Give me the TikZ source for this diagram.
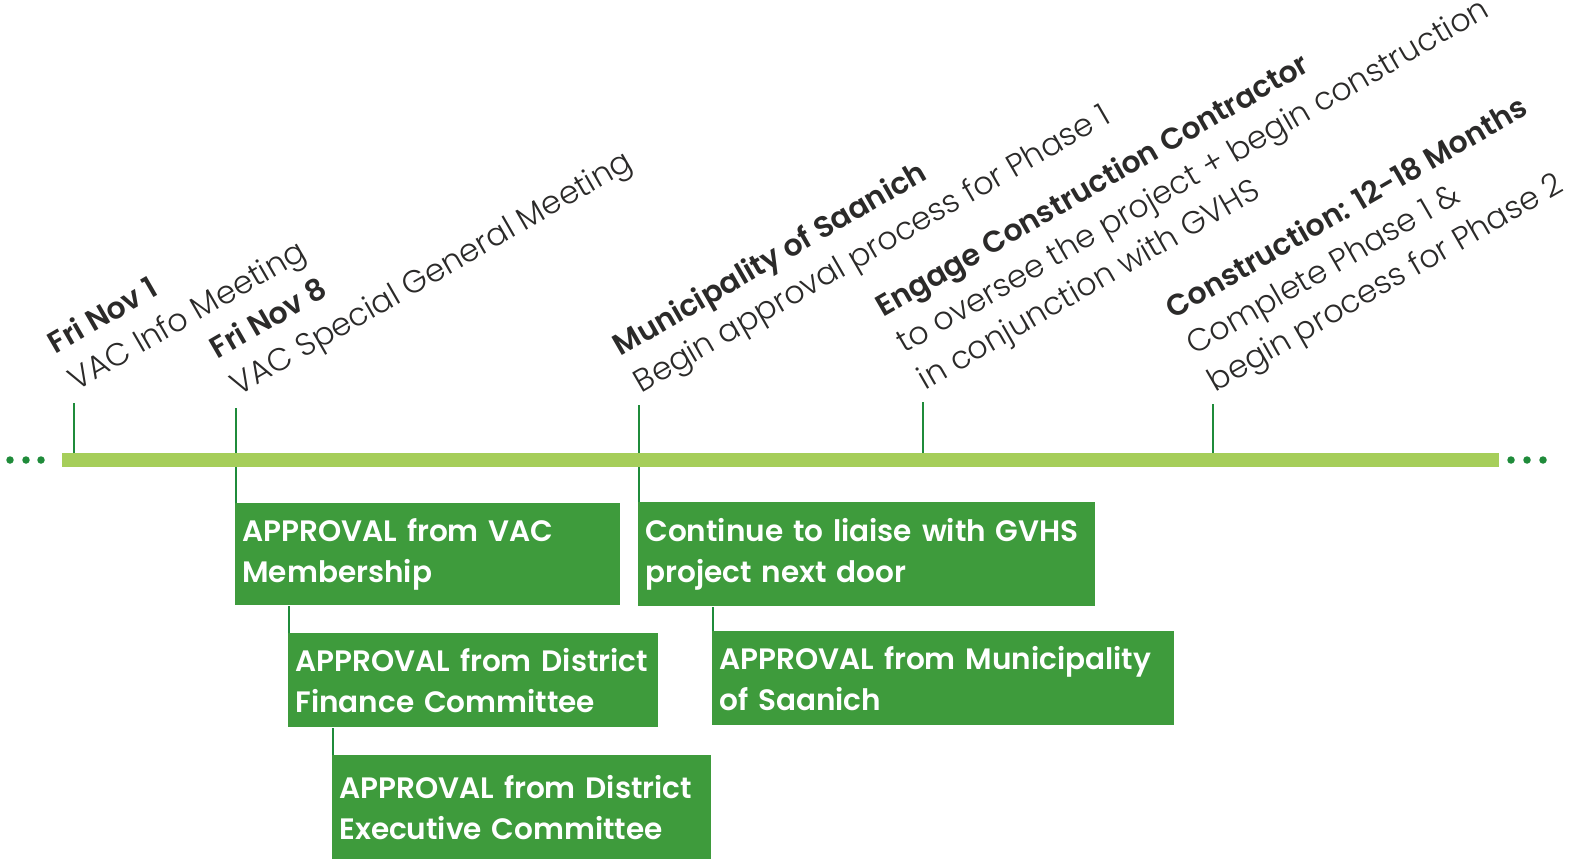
\documentclass[tikz,border=0pt]{standalone}
\usepackage{fontspec}
\setmainfont{Poppins}
\newfontfamily\thinfont{Poppins Light}
\newfontfamily\semifont{Poppins SemiBold}
\usetikzlibrary{calc}
\definecolor{barlime}{HTML}{A6CE5A}
\definecolor{boxgreen}{HTML}{3E9B3C}
\definecolor{linegreen}{HTML}{1F8B3A}
\definecolor{inkgray}{HTML}{2B2A29}

\newcommand{\hd}[1]{{\semifont\fontsize{17}{24}\selectfont #1}}

\begin{document}
\begin{tikzpicture}[
    event/.style={rotate=30, anchor=south west, align=left, inner sep=0pt, xshift=0.16cm,
                  text=inkgray, font=\thinfont\fontsize{18}{24}\selectfont},
    stepbox/.style={fill=boxgreen, anchor=north west, align=left, inner xsep=0.14cm,
                    inner ysep=0pt, text=white, font=\semifont\fontsize{16.8}{23}\selectfont},
    bar/.style={fill=barlime, minimum width=28.74cm, minimum height=0.28cm, inner sep=0pt},
    tick/.style={draw=linegreen, line width=1.1pt}
  ]
    \useasboundingbox (0,0) rectangle (31.44,17.16);

    % tick tops
    \coordinate (k1) at (1.48, 9.10);
    \coordinate (k2) at (4.72, 9.00);
    \coordinate (k3) at (12.78,9.06);
    \coordinate (k4) at (18.46,9.12);
    \coordinate (k5) at (24.26,9.08);

    % milestones above the time line
    \node[event] (nov1)   at (k1) {\hd{Fri Nov 1}\\VAC Info Meeting};
    \node[event] (nov8)   at (k2) {\hd{Fri Nov 8}\\VAC Special General Meeting};
    \node[event] (saan)   at (k3) {\hd{Municipality of Saanich}\\Begin approval process for Phase 1};
    \node[event] (engage) at (k4) {\hd{Engage Construction Contractor}\\to oversee the project + begin construction\\in conjunction with GVHS};
    \node[event] (build)  at (k5) {\hd{Construction: 12-18 Months}\\Complete Phase 1 \&\\begin process for Phase 2};

    % approval steps below
    \node[stepbox, text width=7.42cm, minimum height=2.04cm] (vac)     at (4.70, 7.10) {APPROVAL from VAC\\Membership};
    \node[stepbox, text width=7.12cm, minimum height=1.88cm] (finance) at (5.76, 4.50) {APPROVAL from District\\Finance Committee};
    \node[stepbox, text width=7.30cm, minimum height=2.08cm] (exec)    at (6.64, 2.06) {APPROVAL from District\\Executive Committee};
    \node[stepbox, text width=8.86cm, minimum height=2.08cm] (liaise)  at (12.76,7.12) {Continue to liaise with GVHS\\project next door};
    \node[stepbox, text width=8.96cm, minimum height=1.88cm] (muni)    at (14.24,4.54) {APPROVAL from Municipality\\of Saanich};

    % ticks
    \foreach \k in {k1, k4, k5}
      \draw[tick] (\k) -- (\k |- 0,7.96);
    \draw[tick] (k2) -- (k2 |- vac.north);
    \draw[tick] (k3) -- (k3 |- liaise.north);
    \draw[tick] ([xshift=0.6pt]finance.north west) -- ([xshift=0.6pt]finance.north west |- vac.south);
    \draw[tick] ([xshift=0.6pt]exec.north west) -- ([xshift=0.6pt]exec.north west |- finance.south);
    \draw[tick] ([xshift=0.6pt]muni.north west) -- ([xshift=0.6pt]muni.north west |- liaise.south);

    % the time line itself
    \node[bar] (bar) at (15.61,7.96) {};
    \foreach \x in {0.20, 0.52, 0.82, 30.22, 30.54, 30.86}
      \fill[linegreen] (\x,7.96) circle (0.075);
\end{tikzpicture}
\end{document}
